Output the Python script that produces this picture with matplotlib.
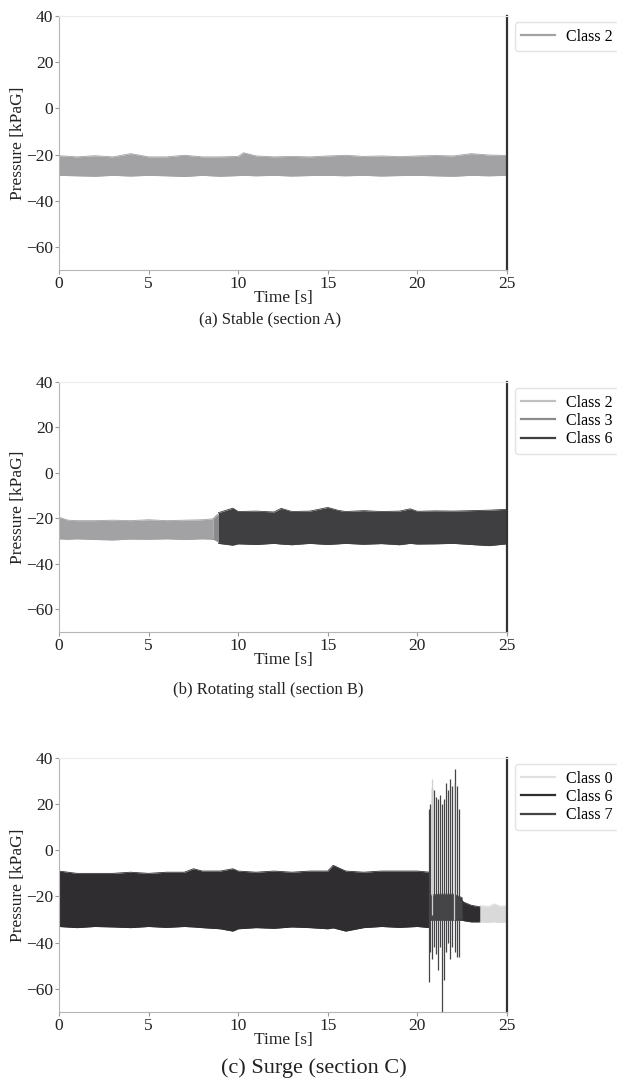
import matplotlib
matplotlib.use("Agg")
import matplotlib.pyplot as plt

plt.rcParams['font.family'] = ['Liberation Serif', 'DejaVu Serif']
plt.rcParams['axes.unicode_minus'] = True

# ---- dados (envelopes do sinal de pressão, kPaG) ----

# (a) Stable - Class 2
a_t = [0, 1, 2, 3, 4, 5, 6, 7, 8, 9, 10, 10.3, 11, 12, 13, 14, 15, 16, 17, 18, 19, 20, 21, 22, 23, 24, 25]
a_hi = [-20.5, -21, -20.5, -21, -19.6, -21, -21, -20.3, -21, -21, -20.8, -19.2, -20.6, -21, -20.8, -21, -20.6, -20.3, -20.8, -20.6, -20.9, -20.6, -20.4, -20.6, -19.6, -20.2, -20.4]
a_lo = [-29, -29.2, -29.4, -29, -29.3, -29, -29.2, -29.5, -29, -29.4, -29.1, -29, -29.2, -29, -29.3, -29.1, -29, -29.2, -29, -29.3, -29.1, -29, -29.2, -29.4, -29, -29.2, -29]

# (b) Rotating stall - Class 2 / 3 / 6
b2_t = [0, 0.5, 1, 2, 3, 4, 5, 6, 7, 8, 8.6]
b2_hi = [-19.5, -20.8, -21, -21, -20.8, -21, -20.6, -21, -20.8, -20.6, -20.2]
b2_lo = [-29, -29.2, -29, -29.3, -29.5, -29.1, -29.2, -29, -29.3, -29, -29.2]
b3_t = [8.6, 8.75, 8.9]
b3_hi = [-20.2, -19, -18]
b3_lo = [-29.2, -29.6, -30.5]
b6_t = [8.9, 9.7, 10, 11, 12, 12.4, 13, 14, 15, 15.6, 16, 17, 18, 19, 19.6, 20, 21, 22, 23, 24, 25]
b6_hi = [-17.5, -15.5, -17, -16.8, -17.2, -15.6, -17, -16.8, -15.2, -16.5, -17, -16.6, -17, -16.8, -15.8, -16.9, -16.7, -16.8, -16.6, -16.4, -16]
b6_lo = [-31, -31.8, -31.2, -31.5, -31, -31.3, -31.6, -31, -31.5, -31.2, -31, -31.4, -31.1, -31.6, -31, -31.3, -31.2, -31, -31.5, -32, -31.2]

# (c) Surge - Class 0 / 6 / 7
c6_t = [0, 1, 2, 3, 4, 5, 6, 7, 7.5, 8, 9, 9.7, 10, 11, 12, 13, 14, 15, 15.3, 16, 17, 18, 19, 20, 20.7]
c6_hi = [-9, -10, -10, -10, -9.5, -10, -9.5, -9.5, -8, -9, -9, -8, -9, -9.5, -9, -9.5, -9, -9, -6.5, -9, -9.5, -9, -9, -9, -9.5]
c6_lo = [-33, -33.5, -33, -33.2, -33.5, -33, -33.4, -33, -33.2, -33.5, -34, -35, -34, -33.5, -33.8, -33.2, -33.5, -34, -33.6, -35, -33.5, -33, -33.4, -33, -33.5]
c6b_t = [22.3, 22.6, 23.0, 23.5]
c6b_hi = [-20.5, -22.5, -23.8, -24.5]
c6b_lo = [-30, -30.5, -31, -31]
c7_t = [20.7, 21.2, 22.0, 22.5]
c7_hi = [-19.5, -19, -19, -20.5]
c7_lo = [-30, -30, -30, -30]
surge_t = [20.66, 20.72, 20.84, 20.94, 21.04, 21.14, 21.26, 21.40, 21.50, 21.62, 21.72, 21.82, 21.95, 22.10, 22.20, 22.30]
surge_hi = [18, 20, 27, 26, 23, 22, 24, 20, 22, 29, 26, 31, 28, 35, 28, 18]
surge_lo = [-57, -44, -47, -42, -45, -52, -42, -70, -56, -44, -40, -47, -42, -44, -46, -46]
c0_spike_t = [20.80, 22.04]
c0_spike_hi = [31, 29]
c0_spike_lo = [-28, -30]
c0_t = [23.5, 24, 24.3, 24.6, 25]
c0_hi = [-24, -24.3, -23.2, -24.2, -24]
c0_lo = [-31, -31.2, -31, -31.3, -31]

cores = {'Class 0': '#d9d9d9', 'Class 2': '#a2a2a4', 'Class 3': '#8a8a8c',
         'Class 6': '#2f2d30', 'Class 7': '#454547'}
cor_b6 = '#3f3f41'


def faixa(ax, t, hi, lo, cor, label=None):
    ax.plot(t, hi, color=cor, lw=0.6, label=label)
    ax.plot(t, lo, color=cor, lw=0.6)
    ax.fill_between(t, lo, hi, color=cor, lw=0)


def estilo(ax):
    ax.set_xlim(0, 25)
    ax.set_ylim(-70, 40)
    ax.set_xticks([0, 5, 10, 15, 20, 25])
    ax.set_yticks([-60, -40, -20, 0, 20, 40])
    ax.tick_params(direction='out', length=3, width=0.8, color='#999999',
                   labelsize=12.5, labelcolor='#222222', pad=1)
    ax.spines['left'].set_color('#b5b5b5')
    ax.spines['bottom'].set_color('#b5b5b5')
    ax.spines['top'].set_color('#ececec')
    ax.spines['right'].set_color('#333333')
    ax.spines['right'].set_linewidth(1.6)
    ax.set_xlabel('Time [s]', fontsize=12.5, color='#222222', labelpad=-1)
    ax.set_ylabel('Pressure [kPaG]', fontsize=12.5, color='#222222', labelpad=0)
    leg = ax.legend(loc='upper left', bbox_to_anchor=(1.018, 0.975), fontsize=11.5,
                    frameon=True, fancybox=True, edgecolor='#dddddd',
                    handlelength=2.1, labelspacing=0.15, borderpad=0.4,
                    handletextpad=0.7, borderaxespad=0)
    for linha in leg.get_lines():
        linha.set_linewidth(1.6)


fig = plt.figure(figsize=(6.17, 10.88), dpi=100)

# (a)
ax1 = fig.add_axes([0.0956, 0.7518, 0.726, 0.2335])
faixa(ax1, a_t, a_hi, a_lo, cores['Class 2'], 'Class 2')
estilo(ax1)

# (b)
ax2 = fig.add_axes([0.0956, 0.4191, 0.726, 0.2298])
faixa(ax2, b2_t, b2_hi, b2_lo, cores['Class 2'], 'Class 2')
faixa(ax2, b3_t, b3_hi, b3_lo, cores['Class 3'], 'Class 3')
faixa(ax2, b6_t, b6_hi, b6_lo, cor_b6, 'Class 6')
estilo(ax2)
leg2 = ax2.get_legend()
leg2.get_lines()[0].set_color('#c0c0c0')

# (c)
ax3 = fig.add_axes([0.0956, 0.0699, 0.726, 0.2335])
ax3.plot([], [], color='#e0e0e0', label='Class 0')
faixa(ax3, c6_t, c6_hi, c6_lo, cores['Class 6'], 'Class 6')
faixa(ax3, c6b_t, c6b_hi, c6b_lo, cores['Class 6'])
faixa(ax3, c7_t, c7_hi, c7_lo, cores['Class 7'], 'Class 7')
ax3.vlines(surge_t, surge_lo, surge_hi, color=cores['Class 7'], lw=0.9)
ax3.vlines(c0_spike_t, c0_spike_lo, c0_spike_hi, color='#cfcfcf', lw=0.9)
faixa(ax3, c0_t, c0_hi, c0_lo, cores['Class 0'])
estilo(ax3)

fig.text(0.438, 0.7068, '(a) Stable (section A)', ha='center', va='center', fontsize=12, color='#222222')
fig.text(0.435, 0.3658, '(b) Rotating stall (section B)', ha='center', va='center', fontsize=12, color='#222222')
fig.text(0.508, 0.0184, '(c) Surge (section C)', ha='center', va='center', fontsize=16, color='#222222')

fig.savefig('out.png', dpi=100)
